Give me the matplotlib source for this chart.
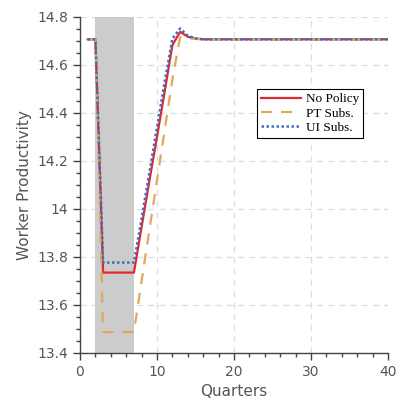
import numpy as np
import matplotlib
matplotlib.use("Agg")
import matplotlib.pyplot as plt
from matplotlib.ticker import MultipleLocator

# =================================
# DATA
# =================================

quarters = list(range(1, 41))

no_policy = [14.707, 14.707, 13.735, 13.735, 13.735, 13.735, 13.735,
             13.925, 14.115, 14.30, 14.49, 14.683, 14.738, 14.718, 14.710]
pt_subs = [14.707, 14.707, 13.487, 13.487, 13.487, 13.487, 13.487,
           13.70, 13.91, 14.12, 14.33, 14.54, 14.716, 14.712, 14.709]
ui_subs = [14.707, 14.707, 13.777, 13.777, 13.777, 13.777, 13.777,
           13.96, 14.15, 14.34, 14.53, 14.71, 14.752, 14.722, 14.711]

steady = 14.707
no_policy += [steady] * (len(quarters) - len(no_policy))
pt_subs += [steady] * (len(quarters) - len(pt_subs))
ui_subs += [steady] * (len(quarters) - len(ui_subs))

recession = (2, 7)
ytick_vals = [13.4, 13.6, 13.8, 14.0, 14.2, 14.4, 14.6, 14.8]
ytick_labels = ["13.4", "13.6", "13.8", "14", "14.2", "14.4", "14.6", "14.8"]

# =================================
# CHART
# =================================

fig = plt.figure(figsize=(4.09, 4.05), dpi=100)
ax = fig.add_axes([80 / 409, 1 - 353 / 405, 308 / 409, 336 / 405])

ax.axvspan(recession[0], recession[1], color="#cccccc", zorder=1, lw=0)

ax.plot(quarters, no_policy, color="#e0282e", lw=1.6, label="No Policy", zorder=3)
ax.plot(quarters, pt_subs, color="#dfa85a", lw=1.6, ls=(0, (5, 4)), label="PT Subs.", zorder=3)
ax.plot(quarters, ui_subs, color="#3a6ec0", lw=1.8, ls=(0, (1, 1)), label="UI Subs.", zorder=4)

ax.set_xlim(0, 40)
ax.set_ylim(13.4, 14.8)
ax.xaxis.set_major_locator(MultipleLocator(10))
ax.xaxis.set_minor_locator(MultipleLocator(2))
ax.set_yticks(ytick_vals)
ax.set_yticklabels(ytick_labels)
ax.yaxis.set_minor_locator(MultipleLocator(0.05))

ax.grid(True, which="major", ls=(0, (5, 4)), color="#dddddd", lw=0.9, zorder=0)
ax.set_axisbelow(True)

for side in ["top", "right"]:
    ax.spines[side].set_visible(False)
for side in ["left", "bottom"]:
    ax.spines[side].set_color("#444444")
    ax.spines[side].set_linewidth(1.0)

ax.tick_params(which="major", direction="out", length=5, width=1, colors="#444444",
               labelcolor="#555555", labelsize=10)
ax.tick_params(which="minor", direction="out", length=3, width=1, colors="#444444")

ax.set_xlabel("Quarters", fontsize=11, color="#555555")
ax.set_ylabel("Worker Productivity", fontsize=11, color="#555555")

leg = ax.legend(loc="upper left", bbox_to_anchor=(0.575, 0.785), borderaxespad=0,
                frameon=True, fancybox=False, edgecolor="black", framealpha=1,
                prop={"family": "Liberation Serif", "size": 9.5},
                borderpad=0.3, labelspacing=0.15, handlelength=3.0, handletextpad=0.4)
leg.get_frame().set_linewidth(0.8)

plt.savefig("out.png", dpi=100)
